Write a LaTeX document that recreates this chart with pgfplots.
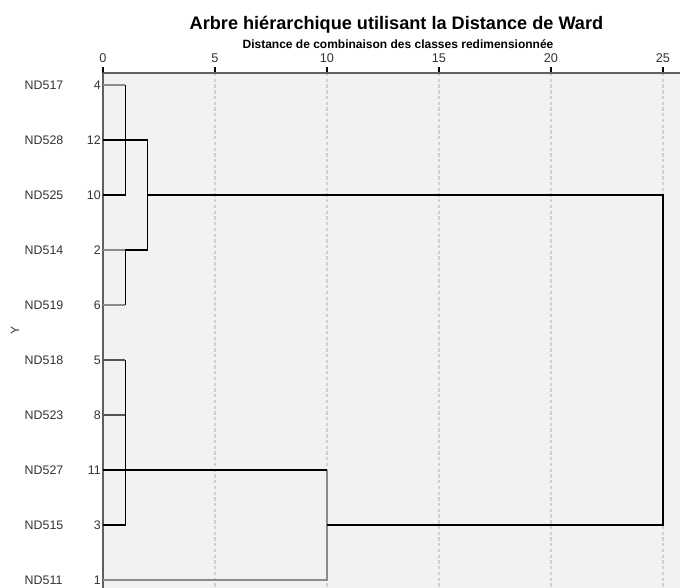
\documentclass[border=0pt]{standalone}
\usepackage{pgfplots}
\pgfplotsset{compat=1.18}
\usepackage{fontspec}
\setmainfont{Liberation Sans}

\definecolor{panelbg}{RGB}{242,242,242}
\definecolor{gridc}{RGB}{208,208,208}
\definecolor{axisc}{RGB}{95,95,95}
\definecolor{lgray}{RGB}{140,140,140}
\definecolor{dgray}{RGB}{85,85,85}

% row label: case name on the left, case number flush against the axis
\newcommand{\lab}[2]{\makebox[30pt][l]{#1}\makebox[27pt][r]{#2}}

\begin{document}
\begin{tikzpicture}
\begin{axis}[
    name=ax,
    scale only axis,
    width=432.75pt, height=386.25pt,
    xmin=0, xmax=25.76,
    ymin=0.782, ymax=10.145,
    y dir=reverse,
    axis x line*=top,
    axis y line*=left,
    axis line style={draw=axisc, line width=1.3pt},
    axis background/.style={fill=panelbg},
    xtick={0,5,...,25},
    xmajorgrids,
    grid style={gridc, dash pattern=on 2.5pt off 1.8pt, line width=0.8pt},
    tick align=outside,
    major tick length=4.5pt,
    xtick style={draw=black, line width=0.8pt},
    xticklabel style={font=\fontsize{9.5}{11}\selectfont, color=black!80},
    ytick={1,...,10},
    yticklabels={\lab{ND517}{4}, \lab{ND528}{12}, \lab{ND525}{10}, \lab{ND514}{2},
                 \lab{ND519}{6}, \lab{ND518}{5}, \lab{ND523}{8}, \lab{ND527}{11},
                 \lab{ND515}{3}, \lab{ND511}{1}},
    ytick style={draw=none},
    yticklabel style={inner sep=0pt, xshift=3pt, font=\fontsize{9.3}{11}\selectfont, color=black!80},
    /pgf/number format/assume math mode=true,
    ylabel={Y},
    ylabel style={at={(axis description cs:0,0.5)}, anchor=center, yshift=66pt,
                  font=\fontsize{9}{10}\selectfont, color=black!80},
    clip=false,
]
% dendrogram links (rows 1..10 top to bottom: cases 4,12,10,2,6,5,8,11,3,1)
\addplot[lgray, line width=0.9pt] coordinates {(0,1) (1,1)};
\addplot[lgray, line width=0.9pt] coordinates {(0,4) (1,4)};
\addplot[lgray, line width=0.9pt] coordinates {(0,5) (1,5)};
\addplot[lgray, line width=0.9pt] coordinates {(0,10) (10,10) (10,8)};
\addplot[dgray, line width=0.9pt] coordinates {(0,6) (1,6)};
\addplot[dgray, line width=0.9pt] coordinates {(0,7) (1,7)};
\addplot[black, line width=0.8pt] coordinates {(0,3) (1,3) (1,1)};
\addplot[black, line width=0.8pt] coordinates {(0,2) (2,2) (2,4) (1,4) (1,5)};
\addplot[black, line width=0.8pt] coordinates {(2,3) (25,3) (25,9) (10,9)};
\addplot[black, line width=0.8pt] coordinates {(0,9) (1,9) (1,6)};
\addplot[black, line width=0.8pt] coordinates {(0,8) (10,8)};
\end{axis}
\node[font=\bfseries\fontsize{13.6}{15}\selectfont] at (ax.north west) [xshift=220.1pt, yshift=36pt]
  {Arbre hiérarchique utilisant la Distance de Ward};
\node[font=\bfseries\fontsize{9}{10}\selectfont] at (ax.north west) [xshift=221.25pt, yshift=21.75pt]
  {Distance de combinaison des classes redimensionnée};
\pgfresetboundingbox
\path[use as bounding box] (ax.south east) rectangle ([xshift=-77.25pt, yshift=54.75pt]ax.north west);
\end{tikzpicture}
\end{document}
